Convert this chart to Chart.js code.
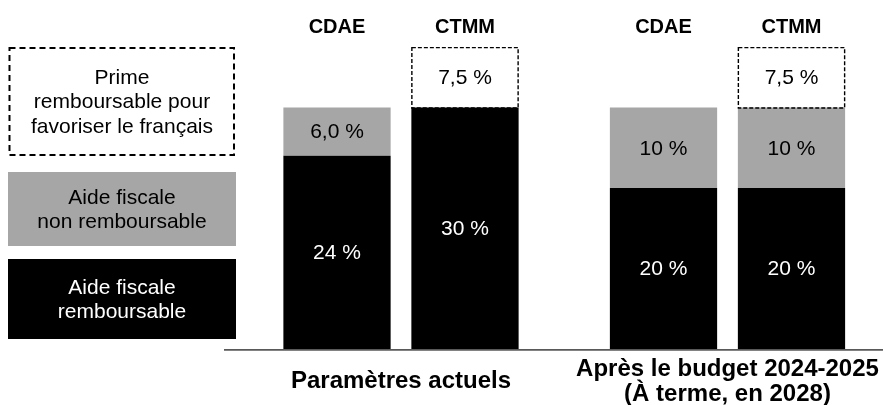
<!DOCTYPE html>
<html>
<head>
<meta charset="utf-8">
<script src="https://cdn.jsdelivr.net/npm/chart.js@4.4.1/dist/chart.umd.min.js"></script>
<style>
  html, body { margin: 0; padding: 0; background: #fff; }
  #wrap { width: 883px; height: 405px; position: relative; }
</style>
</head>
<body>
<div id="wrap"><canvas id="myChart"></canvas></div>
<script>
// data
const groups = ['Paramètres actuels', ['Après le budget 2024-2025', '(À terme, en 2028)']];
const stackNames = ['CDAE', 'CTMM'];
const cdaeRemboursable = [24, 20];
const cdaeNonRemboursable = [6, 10];
const ctmmRemboursable = [30, 20];
const ctmmNonRemboursable = [null, 10];
const ctmmPrime = [7.5, 7.5];
const legendLabels = [
    ['Prime', 'remboursable pour', 'favoriser le français'],
    ['Aide fiscale', 'non remboursable'],
    ['Aide fiscale', 'remboursable']
];

const BLACK = '#000000';
const GREY = '#a6a6a6';
const FONT = 'Liberation Sans, Arial, sans-serif';

function fmt(v) {
    let s = (Number.isInteger(v) && v >= 10) ? String(v) : v.toFixed(1);
    return s.replace('.', ',') + ' %';
}

// dashed outline for the "prime" segments
const dashedBars = {
    id: 'dashedBars',
    afterDatasetsDraw(chart) {
        const ctx = chart.ctx;
        chart.data.datasets.forEach((ds, i) => {
            if (!ds.dashed) return;
            chart.getDatasetMeta(i).data.forEach(bar => {
                const p = bar.getProps(['x', 'y', 'base', 'width'], true);
                ctx.save();
                ctx.strokeStyle = '#000';
                ctx.lineWidth = 1.4;
                ctx.setLineDash([4, 2]);
                ctx.strokeRect(p.x - p.width / 2 + 0.5, p.y + 0.5, p.width - 1, p.base - p.y);
                ctx.restore();
            });
        });
    }
};

// values inside the segments
const valueLabels = {
    id: 'valueLabels',
    afterDatasetsDraw(chart) {
        const ctx = chart.ctx;
        ctx.save();
        ctx.font = '21px ' + FONT;
        ctx.textAlign = 'center';
        ctx.textBaseline = 'middle';
        chart.data.datasets.forEach((ds, i) => {
            chart.getDatasetMeta(i).data.forEach((bar, j) => {
                const v = ds.data[j];
                if (v == null) return;
                const p = bar.getProps(['x', 'y', 'base'], true);
                ctx.fillStyle = ds.textColor;
                ctx.fillText(fmt(v), p.x, (p.y + p.base) / 2 + 1);
            });
        });
        ctx.restore();
    }
};

// CDAE / CTMM above each bar
const stackTitles = {
    id: 'stackTitles',
    afterDraw(chart) {
        const ctx = chart.ctx;
        ctx.save();
        ctx.font = 'bold 20px ' + FONT;
        ctx.fillStyle = '#000';
        ctx.textAlign = 'center';
        ctx.textBaseline = 'middle';
        stackNames.forEach(name => {
            const idx = chart.data.datasets.findIndex(d => d.stack === name);
            chart.getDatasetMeta(idx).data.forEach(bar => {
                ctx.fillText(name, bar.x, 27);
            });
        });
        ctx.restore();
    }
};

// baseline and left-hand legend boxes
const decorations = {
    id: 'decorations',
    afterDraw(chart) {
        const ctx = chart.ctx;
        const area = chart.chartArea;
        ctx.save();
        ctx.strokeStyle = '#595959';
        ctx.lineWidth = 1.7;
        ctx.beginPath();
        ctx.moveTo(224, area.bottom + 0.8);
        ctx.lineTo(883, area.bottom + 0.8);
        ctx.stroke();

        const boxes = [
            {x: 9.5, y: 48, w: 224.5, h: 107, fill: null, text: '#000'},
            {x: 8, y: 172, w: 228, h: 74, fill: GREY, text: '#000'},
            {x: 8, y: 259, w: 228, h: 80, fill: BLACK, text: '#fff'}
        ];
        boxes.forEach((b, i) => {
            if (b.fill) {
                ctx.fillStyle = b.fill;
                ctx.fillRect(b.x, b.y, b.w, b.h);
            } else {
                ctx.lineWidth = 2;
                ctx.strokeStyle = '#000';
                ctx.setLineDash([6, 4]);
                ctx.strokeRect(b.x, b.y, b.w, b.h);
                ctx.setLineDash([]);
            }
            const lines = legendLabels[i];
            const lh = 24.5;
            const cy = b.y + b.h / 2 - (lines.length - 1) * lh / 2 + 1;
            ctx.font = '21px ' + FONT;
            ctx.fillStyle = b.text;
            ctx.textAlign = 'center';
            ctx.textBaseline = 'middle';
            lines.forEach((l, k) => ctx.fillText(l, 122, cy + k * lh));
        });
        ctx.restore();
    }
};

const ctx = document.getElementById('myChart');
Chart.defaults.font.family = FONT;
Chart.defaults.color = '#000';

let chartJsData = {
    labels: groups,
    datasets: [
        {label: 'Aide fiscale remboursable', stack: 'CDAE', data: cdaeRemboursable, backgroundColor: BLACK, textColor: '#fff'},
        {label: 'Aide fiscale non remboursable', stack: 'CDAE', data: cdaeNonRemboursable, backgroundColor: GREY, textColor: '#000'},
        {label: 'Aide fiscale remboursable', stack: 'CTMM', data: ctmmRemboursable, backgroundColor: BLACK, textColor: '#fff'},
        {label: 'Aide fiscale non remboursable', stack: 'CTMM', data: ctmmNonRemboursable, backgroundColor: GREY, textColor: '#000'},
        {label: 'Prime remboursable pour favoriser le français', stack: 'CTMM', data: ctmmPrime, backgroundColor: '#ffffff', textColor: '#000', dashed: true}
    ]
};

let chartJsOptions = {
    responsive: true,
    maintainAspectRatio: false,
    animation: false,
    categoryPercentage: 0.784,
    barPercentage: 0.838,
    clip: false,
    // category ticks sit on the edges of the plot area (offset: false)
    layout: {padding: {left: 401, right: 155.5, top: 27, bottom: 0}},
    scales: {
        x: {
            offset: false,
            grid: {display: false, drawTicks: false},
            border: {display: false},
            ticks: {
                font: {size: 24, weight: 'bold', lineHeight: 1.04},
                color: '#000',
                padding: 20,
                crossAlign: 'center',
                maxRotation: 0,
                autoSkip: false
            },
            afterFit(scale) {
                scale.height = 56;
                scale.paddingLeft = 0;
                scale.paddingRight = 0;
            }
        },
        y: {
            display: false,
            stacked: true,
            min: 0,
            max: 40
        }
    },
    plugins: {
        legend: {display: false},
        tooltip: {enabled: false}
    }
};

new Chart(ctx, {
    type: 'bar',
    data: chartJsData,
    options: chartJsOptions,
    plugins: [dashedBars, valueLabels, stackTitles, decorations]
});
</script>
</body>
</html>
